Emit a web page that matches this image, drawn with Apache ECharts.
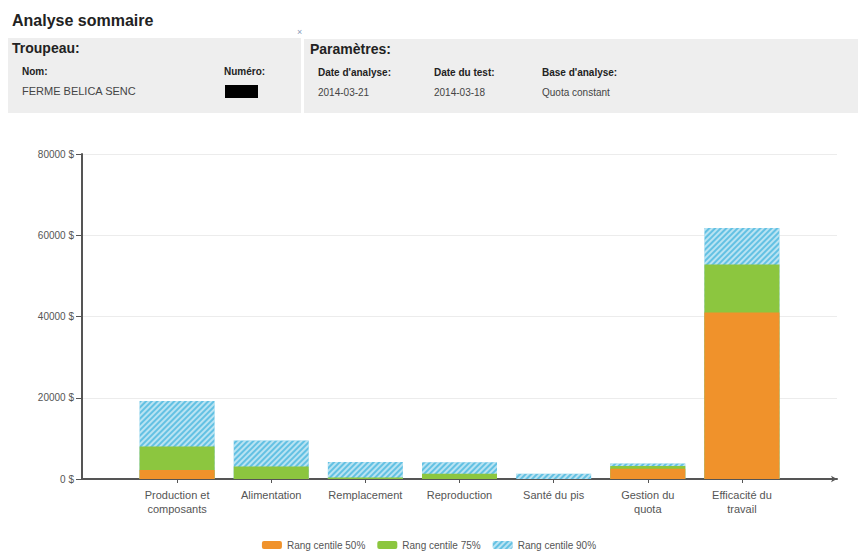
<!DOCTYPE html>
<html>
<head>
<meta charset="utf-8">
<script src="https://cdn.jsdelivr.net/npm/echarts@6/dist/echarts.min.js"></script>
<style>
  html, body { margin:0; padding:0; background:#fff; }
  body { width:858px; height:559px; position:relative; overflow:hidden; font-family:"Liberation Sans", Arial, sans-serif; color:#222; }
  #chart { position:absolute; left:0; top:0; width:858px; height:559px; }
  .t { position:absolute; white-space:nowrap; line-height:1; }
  .panel { position:absolute; background:#eeeeee; }
  .b { font-weight:bold; }
</style>
</head>
<body>
<div id="chart"></div>
<div class="t b" style="left:12px;top:13px;font-size:16px;">Analyse sommaire</div>
<div class="panel" style="left:8px;top:38px;width:293px;height:75px;"></div>
<div class="panel" style="left:304px;top:39px;width:554px;height:74px;"></div>
<div class="t" style="left:297px;top:28px;font-size:9px;color:#8a9ab8;">×</div>
<div class="t b" style="left:12px;top:41px;font-size:14px;">Troupeau:</div>
<div class="t b" style="left:22px;top:67px;font-size:10px;">Nom:</div>
<div class="t" style="left:22px;top:86px;font-size:11px;color:#444;">FERME BELICA SENC</div>
<div class="t b" style="left:224px;top:67px;font-size:10px;">Numéro:</div>
<div style="position:absolute;left:225px;top:85px;width:33px;height:13px;background:#000;"></div>
<div class="t b" style="left:310px;top:42px;font-size:14px;">Paramètres:</div>
<div class="t b" style="left:318px;top:68px;font-size:10px;">Date d'analyse:</div>
<div class="t" style="left:318px;top:88px;font-size:10px;color:#444;">2014-03-21</div>
<div class="t b" style="left:434px;top:68px;font-size:10px;">Date du test:</div>
<div class="t" style="left:434px;top:88px;font-size:10px;color:#444;">2014-03-18</div>
<div class="t b" style="left:542px;top:68px;font-size:10px;">Base d'analyse:</div>
<div class="t" style="left:542px;top:88px;font-size:10px;color:#444;">Quota constant</div>
<script>
// Data
const categories = ['Production et\ncomposants', 'Alimentation', 'Remplacement', 'Reproduction', 'Santé du pis', 'Gestion du\nquota', 'Efficacité du\ntravail'];
const seriesNames = ['Rang centile 50%', 'Rang centile 75%', 'Rang centile 90%'];
const rang50 = [2200, 0, 0, 0, 0, 2500, 41000];
const rang75 = [8000, 3100, 400, 1300, 0, 3200, 52800];
const rang90 = [19200, 9500, 4200, 4100, 1300, 3800, 61800];
const yTicks = [0, 20000, 40000, 60000, 80000];

const chart = echarts.init(document.getElementById('chart'), null, { renderer: 'svg' });
const font = '"Liberation Sans", Arial, sans-serif';
const hatch = {
  symbol: 'rect', symbolSize: 1, color: 'rgba(255,255,255,0.55)',
  dashArrayX: [1, 0], dashArrayY: [2, 2], rotation: -Math.PI / 4
};
function barSeries(name, data, color, z, decal) {
  return {
    name: name, type: 'bar', data: data, xAxisIndex: 1, yAxisIndex: 1,
    barWidth: 75, barGap: '-100%', z: z,
    itemStyle: decal ? { color: color, decal: decal } : { color: color },
    emphasis: { disabled: true }
  };
}
chart.setOption({
  animation: false,
  textStyle: { fontFamily: font },
  grid: [
    { left: 82, right: 21, top: 154, bottom: 80 },
    { left: 130, right: 69, top: 154, bottom: 80 }
  ],
  xAxis: [
    { gridIndex: 0, type: 'value', min: 0, max: 1,
      axisLine: { show: true, lineStyle: { color: '#555', width: 2 }, symbol: ['none', 'arrow'], symbolSize: [5, 6] },
      axisTick: { show: false }, axisLabel: { show: false }, splitLine: { show: false } },
    { gridIndex: 1, type: 'category', data: categories,
      axisLine: { show: false },
      axisTick: { show: true, alignWithLabel: true, length: 4, lineStyle: { color: '#555' } },
      axisLabel: { color: '#555', fontSize: 11, margin: 9, lineHeight: 14, interval: 0 } }
  ],
  yAxis: [
    { gridIndex: 0, type: 'value', min: yTicks[0], max: yTicks[yTicks.length - 1], interval: yTicks[1] - yTicks[0],
      axisLine: { show: true, lineStyle: { color: '#555', width: 2 } },
      axisTick: { show: true, length: 6, lineStyle: { color: '#555' } },
      axisLabel: { color: '#555', fontSize: 10, margin: 8, formatter: function (v) { return v + ' $'; } },
      splitLine: { show: true, lineStyle: { color: '#ececec' } } },
    { gridIndex: 1, type: 'value', min: yTicks[0], max: yTicks[yTicks.length - 1], interval: yTicks[1] - yTicks[0],
      show: false, splitLine: { show: false } }
  ],
  legend: {
    data: seriesNames, bottom: 4, left: 'center',
    itemWidth: 20, itemHeight: 8, itemGap: 12,
    textStyle: { fontSize: 10, color: '#555' }
  },
  series: [
    barSeries(seriesNames[2], rang90, '#63c1e3', 2, hatch),
    barSeries(seriesNames[1], rang75, '#8cc63f', 3),
    barSeries(seriesNames[0], rang50, '#f0922b', 4)
  ]
});
</script>
</body>
</html>
